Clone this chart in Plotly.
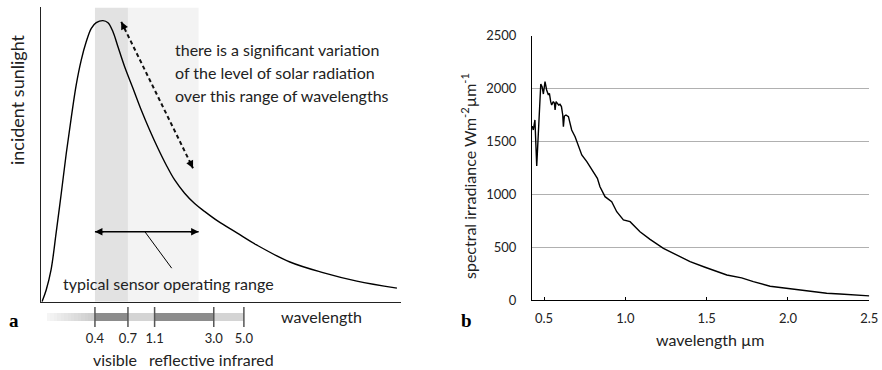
import math
import plotly.graph_objects as go

W, H = 882, 370
FONT = "Lato"
INK = "#222222"

# ---------------- panel a: schematic solar curve (log wavelength, µm) ----------------
sun_wl = [0.163, 0.175, 0.190, 0.207, 0.226, 0.246, 0.268, 0.291, 0.317, 0.345,
          0.376, 0.409, 0.458, 0.499, 0.543, 0.591, 0.662, 0.762, 0.877, 1.011,
          1.164, 1.340, 1.546, 1.830, 2.168, 2.569, 3.220, 4.443, 6.205, 10.91,
          19.10, 33.96, 66.99]
sun_level = [0.0, 4.0, 10.8, 23.3, 36.9, 50.5, 62.8, 73.7, 82.2, 88.4,
             93.0, 94.9, 95.6, 94.9, 91.8, 86.7, 79.9, 72.6, 65.2, 58.4,
             52.2, 46.5, 41.4, 36.9, 33.4, 30.7, 27.4, 23.4, 19.3, 13.5,
             9.9, 7.0, 4.6]

visible_band = [0.4, 0.7]
sensor_band = [0.7, 2.32]
sensor_range = [0.4, 2.32]
range_arrow_level = 23.8
leader_wl = [0.933, 1.47]
leader_level = [23.8, 11.4]
variation_wl = [0.625, 2.11]
variation_level = [95.2, 45.4]

# wavelength scale bar under panel a
scale_ticks = [0.4, 0.7, 1.1, 3.0, 5.0]
scale_labels = ["0.4", "0.7", "1.1", "3.0", "5.0"]
scale_start = 0.1775

# ---------------- panel b: measured spectral irradiance ----------------
irr_wl = [0.426, 0.428, 0.434, 0.444, 0.455, 0.480, 0.488, 0.496, 0.506, 0.516,
          0.527, 0.533, 0.541, 0.547, 0.557, 0.564, 0.568, 0.574, 0.582, 0.590,
          0.598, 0.607, 0.615, 0.619, 0.625, 0.635, 0.650, 0.660, 0.670, 0.691,
          0.711, 0.732, 0.763, 0.793, 0.828, 0.844, 0.875, 0.916, 0.947, 0.988,
          1.029, 1.090, 1.152, 1.234, 1.316, 1.398, 1.490, 1.541, 1.624, 1.715,
          1.787, 1.890, 1.993, 2.074, 2.156, 2.238, 2.320, 2.402, 2.494, 2.500]
irr_val = [1640, 1640, 1609, 1704, 1269, 2044, 2018, 1949, 2066, 1987,
           1940, 1956, 1877, 1845, 1877, 1861, 1798, 1877, 1861, 1845,
           1852, 1830, 1751, 1640, 1741, 1751, 1735, 1672, 1609, 1546,
           1467, 1373, 1310, 1231, 1153, 1073, 979, 932, 837, 759,
           743, 648, 576, 491, 428, 365, 312, 286, 239, 212,
           176, 133, 113, 97, 76, 66, 60, 50, 43, 42]
irr_ticks = [0.5, 1.0, 1.5, 2.0, 2.5]
irr_ticktext = ["0.5", "1.0", "1.5", "2.0", "2.5"]
val_ticks = [0, 500, 1000, 1500, 2000, 2500]


def fx(px):
    return px / W


def fy(py):
    return 1 - py / H


fig = go.Figure()

# shaded wavelength bands
for band, col in ((visible_band, "#e2e2e2"), (sensor_band, "#f3f3f3")):
    fig.add_trace(go.Scatter(
        x=[band[0], band[1], band[1], band[0], band[0]],
        y=[0, 0, 100, 100, 0], fill="toself", fillcolor=col,
        line=dict(width=0), mode="lines", hoverinfo="skip",
        xaxis="x", yaxis="y", showlegend=False))

# solar curve
fig.add_trace(go.Scatter(x=sun_wl, y=sun_level, mode="lines",
                         line=dict(color="black", width=1.4, shape="spline"),
                         xaxis="x", yaxis="y", showlegend=False))

# sensor range arrow shaft and leader
fig.add_trace(go.Scatter(x=sensor_range, y=[range_arrow_level] * 2, mode="lines",
                         line=dict(color="black", width=1.5),
                         xaxis="x", yaxis="y", showlegend=False))
fig.add_trace(go.Scatter(x=leader_wl, y=leader_level, mode="lines",
                         line=dict(color="black", width=1),
                         xaxis="x", yaxis="y", showlegend=False))
# dashed variation arrow shaft
fig.add_trace(go.Scatter(x=variation_wl, y=variation_level, mode="lines",
                         line=dict(color="#111111", width=2, dash="4px,3px"),
                         xaxis="x", yaxis="y", showlegend=False))

# scale bar: gradient lead-in followed by band segments
n_grad = 14
lo, hi = math.log10(scale_start), math.log10(scale_ticks[0])
edges = [10 ** (lo + (hi - lo) * i / n_grad) for i in range(n_grad)] + scale_ticks
shade = [0.04 + 0.16 * i / (n_grad - 1) for i in range(n_grad)] + [0.45, 0.17, 0.45, 0.17]
fig.add_trace(go.Heatmap(x=edges, y=[-0.4, 0.4], z=[shade], zmin=0, zmax=1,
                         colorscale=[[0, "#ffffff"], [1, "#000000"]],
                         showscale=False, hoverinfo="skip",
                         xaxis="x3", yaxis="y3"))
tx, ty = [], []
for v in scale_ticks:
    tx += [v, v, None]
    ty += [-1, 1, None]
fig.add_trace(go.Scatter(x=tx, y=ty, mode="lines", line=dict(color="#555555", width=1.5),
                         xaxis="x3", yaxis="y3", showlegend=False, hoverinfo="skip"))

# panel b spectrum
fig.add_trace(go.Scatter(x=irr_wl, y=irr_val, mode="lines",
                         line=dict(color="black", width=1.4),
                         xaxis="x2", yaxis="y2", showlegend=False))

annotations = []


def head(xv, yv, dx, dy):
    annotations.append(dict(x=math.log10(xv), y=yv, xref="x", yref="y", text="",
                            showarrow=True, arrowhead=2, arrowsize=1, arrowwidth=1.5,
                            arrowcolor="black", ax=dx, ay=dy))


head(sensor_range[0], range_arrow_level, 10, 0)
head(sensor_range[1], range_arrow_level, -10, 0)
head(variation_wl[0], variation_level[0], 4.4, 9)
head(variation_wl[1], variation_level[1], -4.4, -9)


def txt(text, x, y, size=16, angle=0, xanchor="center", family=FONT, color=INK, **kw):
    annotations.append(dict(text=text, x=x, y=y, xref="paper", yref="paper",
                            showarrow=False, xanchor=xanchor, yanchor="middle",
                            textangle=angle, font=dict(family=family, size=size, color=color), **kw))


for i, line in enumerate(["there is a significant variation",
                          "of the level of solar radiation",
                          "over this range of wavelengths"]):
    txt(line, fx(173), fy(50 + 22.5 * i), xanchor="left")
txt("typical sensor operating range", fx(168), fy(283))
txt("incident sunlight", fx(17), fy(100), size=18, angle=-90)
txt("wavelength", fx(321), fy(316))
txt("visible", fx(115), fy(359))
txt("reflective infrared", fx(211), fy(359))
txt("<b>a</b>", fx(14), fy(320), size=19, family="Liberation Serif", color="black")
txt("<b>b</b>", fx(466), fy(320), size=19, family="Liberation Serif", color="black")
txt("spectral irradiance Wm<sup>-2</sup>µm<sup>-1</sup>", fx(468), fy(176), angle=-90)
txt("wavelength µm", fx(710), fy(339))

tickfont = dict(family=FONT, size=13, color=INK)
left_dom = [fx(41.3), fx(401)]
fig.update_layout(
    width=W, height=H, margin=dict(l=0, r=0, t=0, b=0, autoexpand=False),
    paper_bgcolor="white", plot_bgcolor="rgba(0,0,0,0)",
    annotations=annotations,
    xaxis=dict(domain=left_dom, type="log", range=[-0.793, 1.856], automargin=False,
               showline=True, linecolor="#222222", linewidth=1.3,
               showgrid=False, zeroline=False, showticklabels=False, ticks=""),
    yaxis=dict(domain=[fy(301.7), fy(7)], range=[0, 100.24], automargin=False,
               showline=True, linecolor="#222222", linewidth=1.3,
               showgrid=False, zeroline=False, showticklabels=False, ticks=""),
    xaxis3=dict(domain=left_dom, type="log", range=[-0.793, 1.856], anchor="y3",
                automargin=False,
                showline=False, showgrid=False, zeroline=False, ticks="",
                tickvals=scale_ticks, ticktext=scale_labels, tickfont=tickfont,
                ticklabelstandoff=2),
    yaxis3=dict(domain=[fy(327), fy(307)], range=[-1, 1], anchor="x3",
                automargin=False, visible=False),
    xaxis2=dict(domain=[fx(532), fx(869.3)], range=[0.426, 2.5], anchor="y2",
                automargin=False,
                showline=True, linecolor="black", linewidth=1,
                showgrid=False, zeroline=False,
                tickvals=irr_ticks, ticktext=irr_ticktext, tickfont=tickfont,
                ticks="inside", ticklen=3, tickcolor="black", ticklabelstandoff=6),
    yaxis2=dict(domain=[fy(300.3), fy(35.7)], range=[0, 2500], anchor="x2",
                automargin=False,
                showline=True, linecolor="black", linewidth=1,
                showgrid=True, gridcolor="#b0b0b0", gridwidth=1, zeroline=False,
                tickvals=val_ticks, tickfont=tickfont, ticks="",
                ticklabelstandoff=12),
)

fig.write_html("out.html")
